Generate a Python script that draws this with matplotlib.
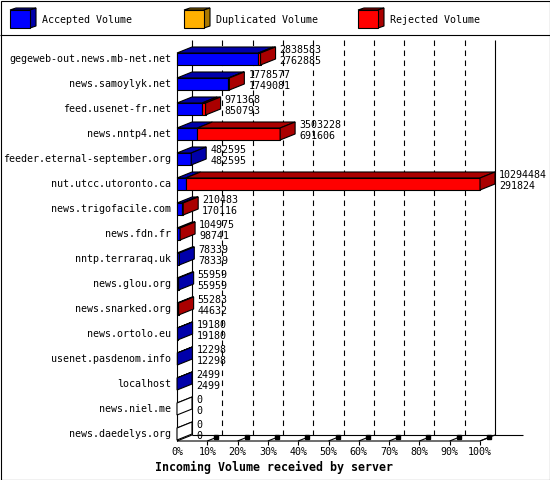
import matplotlib
matplotlib.use("Agg")
import matplotlib.pyplot as plt
from matplotlib.patches import Polygon, Rectangle

# Incoming volume per server (articles)
servers = [
    "gegeweb-out.news.mb-net.net", "news.samoylyk.net", "feed.usenet-fr.net",
    "news.nntp4.net", "feeder.eternal-september.org", "nut.utcc.utoronto.ca",
    "news.trigofacile.com", "news.fdn.fr", "nntp.terraraq.uk", "news.glou.org",
    "news.snarked.org", "news.ortolo.eu", "usenet.pasdenom.info", "localhost",
    "news.niel.me", "news.daedelys.org",
]
total_volume = [2838583, 1778577, 971368, 3503228, 482595, 10294484, 210483,
                104975, 78339, 55959, 55283, 19180, 12298, 2499, 0, 0]
accepted_volume = [2762885, 1749081, 850793, 691606, 482595, 291824, 170116,
                   98741, 78339, 55959, 44632, 19180, 12298, 2499, 0, 0]
duplicated_volume = [0] * len(servers)
rejected_volume = [t - a - d for t, a, d in zip(total_volume, accepted_volume, duplicated_volume)]

tick_labels = ["0%", "10%", "20%", "30%", "40%", "50%", "60%", "70%", "80%", "90%", "100%"]
legend_labels = ["Accepted Volume", "Duplicated Volume", "Rejected Volume"]
title = "Incoming Volume received by server"

BLUE, BLUE_DARK = "#0000ff", "#0000aa"
ORANGE, ORANGE_DARK = "#ffb000", "#aa7800"
RED, RED_DARK = "#ff0000", "#aa0000"
series_colors = [(BLUE, BLUE_DARK), (ORANGE, ORANGE_DARK), (RED, RED_DARK)]

FONT = "DejaVu Sans Mono"
FS = 7.2
LW = 0.8
W, H = 550, 480

fig = plt.figure(figsize=(W / 100, H / 100), dpi=100)

# pixel overlay for frame, legend and title
deco = fig.add_axes([0, 0, 1, 1])
deco.set_xlim(0, W)
deco.set_ylim(H, 0)
deco.axis("off")

# main axes: x = percent of the biggest server, y = row index
X0, X100 = 177, 480
Y_TOP, Y_FLOOR = 40, 441
ROW0, ROW_STEP = 59, 25
ax = fig.add_axes([X0 / W, (H - Y_FLOOR) / H, (X100 - X0) / W, (Y_FLOOR - Y_TOP) / H])
ax.set_xlim(0, 100)
y_floor = (Y_FLOOR - ROW0) / ROW_STEP
y_top = (Y_TOP - ROW0) / ROW_STEP
ax.set_ylim(y_floor, y_top)
ax.axis("off")

px = 100 / (X100 - X0)   # percent per pixel
rp = 1 / ROW_STEP        # rows per pixel
DX, DY = 15 * px, -6 * rp
BAR_H = 12 * rp


def poly(a, pts, fc, z=3):
    a.add_patch(Polygon(pts, closed=True, fc=fc, ec="black", lw=LW, clip_on=False, zorder=z))


def line(a, xs, ys, **kw):
    a.plot(xs, ys, color="black", lw=LW, clip_on=False, solid_capstyle="butt", **kw)


# back grid lines
for k in range(1, 10):
    line(ax, [k * 10 + DX] * 2, [y_top, y_floor + DY], ls=(0, (5, 4)), zorder=1)
line(ax, [100 + DX] * 2, [y_top, y_floor + DY], zorder=1)

# left wall
line(ax, [0, 0], [-BAR_H / 2, y_floor], zorder=2)
line(ax, [DX, DX], [y_top, y_floor + DY], zorder=2)

# floor
line(ax, [0, 100, 100 + DX], [y_floor, y_floor, y_floor + DY], zorder=2)
line(ax, [0, DX], [y_floor, y_floor + DY], zorder=2)
line(ax, [DX, 100 + DX + 28 * px], [y_floor + DY] * 2, zorder=2)

for k, lab in enumerate(tick_labels):
    x = k * 10
    if k > 0:
        line(ax, [x, x], [y_floor, y_floor + 4 * rp], zorder=2)
        line(ax, [x, x + 0.75 * DX], [y_floor, y_floor + 0.75 * DY], zorder=2)
        ax.plot([x + 0.6 * DX], [y_floor + 0.65 * DY], marker="s", ms=2.2, color="black",
                clip_on=False, zorder=2)
    ax.text(x, y_floor + 11 * rp, lab, ha="center", va="center", family=FONT, fontsize=FS)

# bars
scale = 100 / max(total_volume)
for i, name in enumerate(servers):
    top, bot = i - BAR_H / 2, i + BAR_H / 2
    x = 0
    side_color = "white"
    for v, (face, dark) in zip([accepted_volume[i], duplicated_volume[i], rejected_volume[i]],
                               series_colors):
        if v <= 0:
            continue
        x1 = x + v * scale
        poly(ax, [(x, top), (x1, top), (x1, bot), (x, bot)], face)
        poly(ax, [(x, top), (x1, top), (x1 + DX, top + DY), (x + DX, top + DY)], dark)
        x = x1
        side_color = dark
    if x == 0:
        line(ax, [0, DX], [top, top + DY], zorder=3)
    poly(ax, [(x, top), (x + DX, top + DY), (x + DX, bot + DY), (x, bot)], side_color)

    ax.text(-6 * px, i, name, ha="right", va="center", family=FONT, fontsize=FS)
    lx = x + DX + 4 * px
    ax.text(lx, i - 9 * rp, str(total_volume[i]), ha="left", va="center",
            family=FONT, fontsize=FS, zorder=4)
    ax.text(lx, i + 2 * rp, str(accepted_volume[i]), ha="left", va="center",
            family=FONT, fontsize=FS, zorder=4)

# frame and legend
deco.add_patch(Rectangle((0.5, 0.5), W - 1, H - 1, fill=False, ec="black", lw=LW))
line(deco, [0, W], [35, 35])
for lx, lab, (face, dark) in zip([10, 184, 358], legend_labels, series_colors):
    fx0, fx1, fy0, fy1 = lx, lx + 20, 10, 28
    ddx, ddy = 6, -2
    poly(deco, [(fx0, fy0), (fx1, fy0), (fx1 + ddx, fy0 + ddy), (fx0 + ddx, fy0 + ddy)], dark)
    poly(deco, [(fx1, fy0), (fx1 + ddx, fy0 + ddy), (fx1 + ddx, fy1 + ddy), (fx1, fy1)], dark)
    poly(deco, [(fx0, fy0), (fx1, fy0), (fx1, fy1), (fx0, fy1)], face)
    deco.text(lx + 32, 20, lab, ha="left", va="center", family=FONT, fontsize=FS)

deco.text(155, 467, title, ha="left", va="center", family=FONT, fontsize=8.4, fontweight="bold")

fig.savefig("out.png", dpi=100)
